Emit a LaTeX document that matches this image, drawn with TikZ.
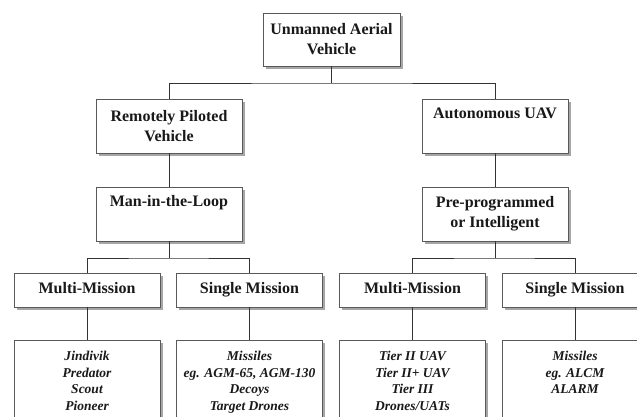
\documentclass[tikz,border=0pt]{standalone}
\usepackage{fontspec}
\setmainfont{Liberation Serif}
\usetikzlibrary{shadows}
\begin{document}
\begin{tikzpicture}[x=1pt,y=-1pt,
  box/.style={draw=black!65, line width=0.9pt, fill=white, inner sep=0pt, align=center,
    font=\fontsize{16}{20}\selectfont\bfseries, text=black!90,
    drop shadow={shadow xshift=2.5pt, shadow yshift=-2.5pt, fill=black!35, opacity=1}},
  wide/.style={box, minimum width=146pt, minimum height=54pt},
  mid/.style={box, minimum width=146pt, minimum height=34pt, text height=11pt, text depth=4pt},
  leaf/.style={box, anchor=north, minimum width=146pt, minimum height=100pt},
  leaftext/.style={anchor=north, align=center, inner sep=0pt,
    font=\fontsize{13.5}{16.7}\selectfont\bfseries\itshape, text=black!90},
  link/.style={draw=black!80, line width=1pt}]
\useasboundingbox (0,0) rectangle (637,416);
\fill[white] (0,0) rectangle (637,416);
\clip (0,0) rectangle (637,416);

% level 1
\node[box, minimum width=137pt, minimum height=53pt] (uav) at (331.5,39.5) {Unmanned Aerial\\Vehicle};
% level 2
\node[wide] (rpv) at (169,126) {Remotely Piloted\\Vehicle};
\node[wide] (auv) at (495,126) {Autonomous UAV\\\strut};
% level 3
\node[wide] (mil) at (169,214) {Man-in-the-Loop\\\strut};
\node[wide] (ppi) at (495,214) {Pre-programmed\\or Intelligent};
% level 4
\node[mid] (mm1) at (87,290) {Multi-Mission};
\node[mid] (sm1) at (249.5,290) {Single Mission};
\node[mid] (mm2) at (412.5,290) {Multi-Mission};
\node[mid] (sm2) at (575,290) {Single Mission};
% level 5
\node[leaf] (l1) at (87,340) {};
\node[leaf] (l2) at (249.5,340) {};
\node[leaf] (l3) at (412.5,340) {};
\node[leaf] (l4) at (575,340) {};
\node[leaftext] (t1) at ([yshift=-11pt]l1.north) {Jindivik\\Predator\\Scout\\Pioneer};
\node[leaftext] (t2) at ([yshift=-11pt]l2.north) {Missiles\\eg. AGM-65, AGM-130\\Decoys\\Target Drones};
\node[leaftext] (t3) at ([yshift=-11pt]l3.north) {Tier II UAV\\Tier II+ UAV\\Tier III\\Drones/UATs};
\node[leaftext] (t4) at ([yshift=-11pt]l4.north) {Missiles\\eg. ALCM\\ALARM};

% connectors
\coordinate (b1) at (331.5,83);
\draw[link] (uav.south) -- (b1);
\draw[link] (rpv.north) |- (b1) -| (auv.north);
\draw[link] (rpv.south) -- (mil.north);
\draw[link] (auv.south) -- (ppi.north);
\coordinate (b2) at (169,258);
\coordinate (b3) at (495,258);
\draw[link] (mil.south) -- (b2);
\draw[link] (mm1.north) |- (b2) -| (sm1.north);
\draw[link] (ppi.south) -- (b3);
\draw[link] (mm2.north) |- (b3) -| (sm2.north);
\draw[link] (mm1.south) -- (l1.north);
\draw[link] (sm1.south) -- (l2.north);
\draw[link] (mm2.south) -- (l3.north);
\draw[link] (sm2.south) -- (l4.north);
\end{tikzpicture}
\end{document}
